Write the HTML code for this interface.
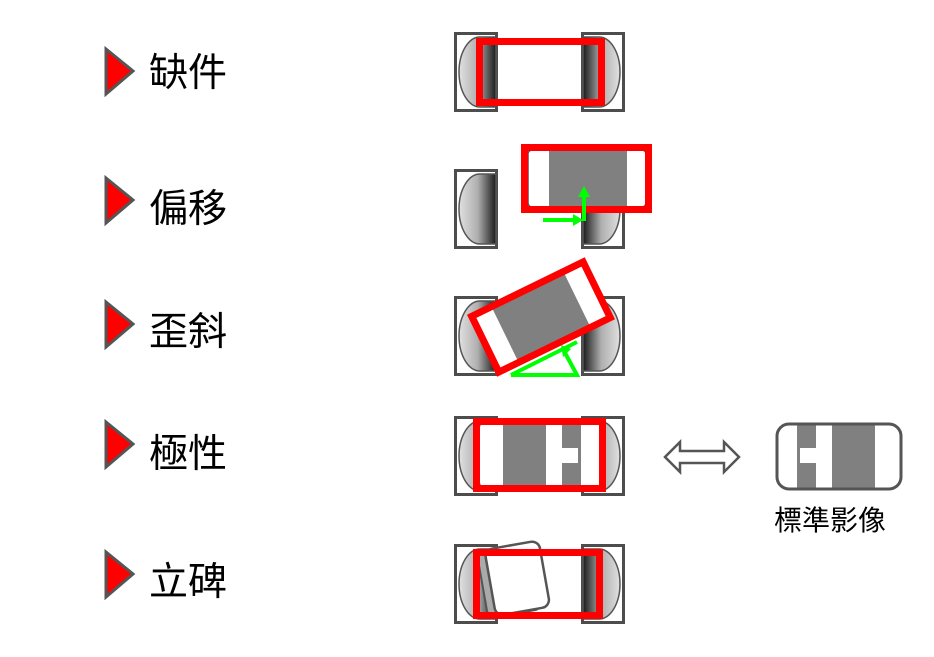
<!DOCTYPE html>
<html><head><meta charset="utf-8"><style>
html,body{margin:0;padding:0;background:#fff;}
svg{display:block;}
text{font-family:"Liberation Sans","Noto Sans CJK TC",sans-serif;}
</style></head><body>
<svg width="934" height="657" viewBox="0 0 934 657" xmlns="http://www.w3.org/2000/svg">
<defs>
<linearGradient id="gl" x1="0" x2="1" y1="0" y2="0"><stop offset="0" stop-color="#e0e0e0"/><stop offset="0.5" stop-color="#b0b0b0"/><stop offset="1" stop-color="#1a1a1a"/></linearGradient>
<linearGradient id="gr" x1="0" x2="1" y1="0" y2="0"><stop offset="0" stop-color="#1a1a1a"/><stop offset="0.5" stop-color="#b0b0b0"/><stop offset="1" stop-color="#e0e0e0"/></linearGradient>
<g id="pads">
<rect x="455.5" y="1.5" width="41" height="77" fill="#fff" stroke="#4d4d4d" stroke-width="3"/>
<path d="M496,5 H480 A21,35 0 0 0 480,75 H496 Z" fill="url(#gl)" stroke="#555" stroke-width="1.5"/>
<rect x="582.5" y="1.5" width="41" height="77" fill="#fff" stroke="#4d4d4d" stroke-width="3"/>
<path d="M583,5 H599 A21,35 0 0 1 599,75 H583 Z" fill="url(#gr)" stroke="#555" stroke-width="1.5"/>
</g>
<polygon id="tri" points="0,0 27,22 0,45" fill="#f00" stroke="#555" stroke-width="3" stroke-linejoin="miter"/>
</defs>

<use href="#tri" x="106" y="49"/>
<use href="#tri" x="106" y="178"/>
<use href="#tri" x="106" y="302"/>
<use href="#tri" x="106" y="422"/>
<use href="#tri" x="106" y="552"/>
<g font-size="39" fill="#000">
<text x="149" y="86">缺件</text>
<text x="149" y="222">偏移</text>
<text x="149" y="345">歪斜</text>
<text x="149" y="467">極性</text>
<text x="149" y="595">立碑</text>
</g>

<use href="#pads" y="32"/>
<rect x="479.5" y="41.5" width="122" height="61" fill="none" stroke="#f00" stroke-width="7"/>

<use href="#pads" y="169"/>
<rect x="528" y="150" width="118" height="57" rx="4" fill="#fff" stroke="#555" stroke-width="1.5"/>
<rect x="549" y="150" width="78" height="57" fill="#808080"/>
<rect x="524.5" y="147.5" width="124" height="62" fill="none" stroke="#f00" stroke-width="7"/>
<path d="M543,220 H576" stroke="#0f0" stroke-width="4"/>
<polygon points="583,220 573,214 573,226" fill="#0f0"/>
<path d="M584,221 V195" stroke="#0f0" stroke-width="4"/>
<polygon points="584,186 578,197 590,197" fill="#0f0"/>

<use href="#pads" y="296"/>
<g transform="translate(541,317) rotate(-26)">
<rect x="-60" y="-29" width="120" height="58" fill="#fff"/>
<rect x="-40" y="-29" width="80" height="58" fill="#808080"/>
<rect x="-62" y="-31" width="124" height="62" fill="none" stroke="#f00" stroke-width="7"/>
</g>
<path d="M511,375 H577 L564,351 M511,375 L577,342" stroke="#0f0" stroke-width="4" fill="none"/>
<polygon points="561,345 571,349 563,357" fill="#0f0"/>

<use href="#pads" y="416"/>
<rect x="480" y="424" width="120" height="62" rx="4" fill="#fff"/>
<rect x="503" y="424" width="43" height="62" fill="#808080"/>
<rect x="562" y="424" width="19" height="62" fill="#808080"/>
<rect x="562" y="448" width="16" height="15" fill="#fff"/>
<rect x="476.5" y="421.5" width="126" height="67" fill="none" stroke="#f00" stroke-width="7"/>

<polygon points="665,457 680,442 680,451 724,451 724,442 739,457 724,472 724,463 680,463 680,472" fill="#fff" stroke="#555" stroke-width="2.5" stroke-linejoin="miter"/>

<rect x="797" y="425" width="19" height="63" fill="#808080"/>
<rect x="800" y="448" width="16" height="15" fill="#fff"/>
<rect x="832" y="425" width="43" height="63" fill="#808080"/>
<rect x="777" y="424" width="124" height="65" rx="12" fill="none" stroke="#555" stroke-width="3"/>
<text x="774" y="530" font-size="28" fill="#000">標準影像</text>

<use href="#pads" y="544"/>
<g transform="translate(510,580) rotate(-10)">
<rect x="-28" y="-33" width="55" height="67" rx="8" fill="#aaa" stroke="#555" stroke-width="2"/>
<rect x="-20" y="-34" width="55" height="67" rx="8" fill="#fff" stroke="#555" stroke-width="2.5"/>
</g>
<rect x="476.5" y="552.5" width="123" height="63" fill="none" stroke="#f00" stroke-width="7"/>
</svg>
</body></html>
